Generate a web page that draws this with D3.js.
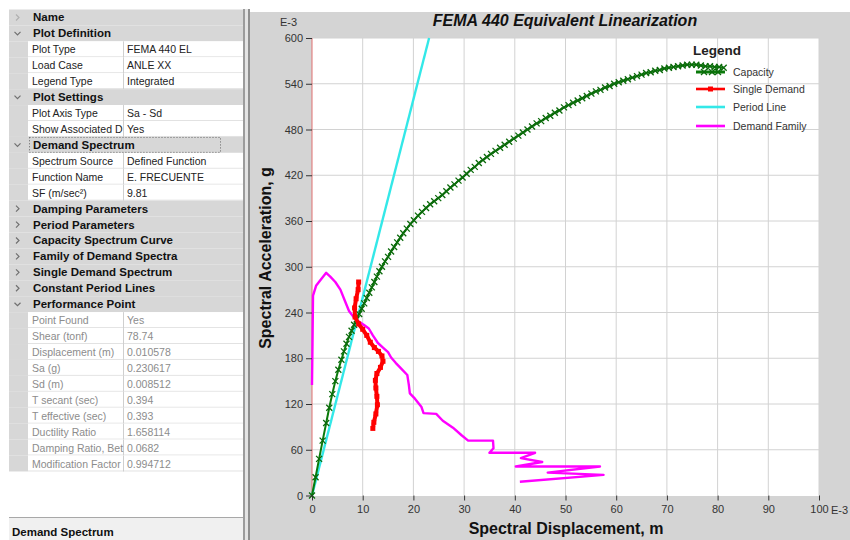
<!DOCTYPE html>
<html>
<head>
<meta charset="utf-8">
<script src="https://cdn.jsdelivr.net/npm/d3@7"></script>
<style>
  body { margin: 0; background: #fff; }
  svg { display: block; font-family: "Liberation Sans", Arial, sans-serif; }
</style>
</head>
<body>
<svg id="chart" width="850" height="540"></svg>
<script>
// ---- Axis ticks (units of 1E-3) ----
const xTicks = [0, 10, 20, 30, 40, 50, 60, 70, 80, 90, 100];
const yTicks = [0, 60, 120, 180, 240, 300, 360, 420, 480, 540, 600];

// ---- Capacity spectrum: [Sd (E-3 m), Sa (E-3 g)] ----
const capacity = [
  [0,0],[0.7,24],[1.4,48],[2.1,72],[2.8,95],[3.4,115],[4.0,133],[4.6,150],[5.2,165],[5.8,178],
  [6.3,189],[6.8,199],[7.3,208],[7.8,216],[8.3,224],[8.8,231],[9.3,238],[9.8,245],[10.3,252],[10.8,259],
  [11.3,266],[11.8,273],[12.3,280],[12.8,287],[13.3,294],[13.8,300],[14.4,307],[15.0,313],[15.6,320],[16.2,326],
  [16.8,332],[17.4,338],[18.0,344],[18.7,350],[19.4,356],[20.1,361],[20.9,367],[21.7,372],[22.5,377],[23.3,382],
  [24.1,386],[24.9,390],[25.7,394],[26.5,399],[27.3,404],[28.1,408],[28.9,413],[29.7,417],[30.5,422],[31.3,427],
  [32.1,431],[32.9,436],[33.7,440],[34.5,444],[35.3,448],[36.2,452],[37.1,456],[38.0,460],[38.9,464],[39.8,468],
  [40.7,472],[41.6,476],[42.5,480],[43.4,484],[44.3,488],[45.2,491],[46.1,495],[47.0,498],[47.9,502],[48.8,505],
  [49.7,509],[50.6,512],[51.5,515],[52.4,518],[53.3,521],[54.2,524],[55.1,527],[56.0,530],[56.9,532],[57.8,535],
  [58.7,537],[59.6,540],[60.5,542],[61.4,544],[62.3,546],[63.2,548],[64.1,550],[65.0,552],[65.9,554],[66.8,555],
  [67.7,557],[68.6,558],[69.5,560],[70.4,561],[71.3,562],[72.2,563],[73.1,564],[74.0,565],[74.9,565],[75.8,565],
  [76.7,564],[77.6,563],[78.5,563],[79.4,562],[80.3,562],[81.2,561]
];

// ---- Single demand spectrum ----
const singleDemand = [
  [9.2,280],[9.1,270],[8.7,258],[8.4,246],[8.5,234],[9.2,225],[10.0,218],[10.8,210],[11.5,201],[12.3,194],
  [13.1,189],[13.8,183],[14.0,176],[13.5,168],[12.8,160],[12.5,151],[12.6,141],[12.8,130],[12.9,119],[12.6,107],
  [12.2,96],[12.0,88]
];

// ---- Constant period line (T secant) ----
const periodLine = [[0,0],[23.1,600]];

// ---- Family of demand spectra ----
const demandFamily = [
  [0,145],[0.1,200],[0.2,262],[0.8,275],[1.6,282],[2.8,292],[3.6,287],[4.6,280],[5.6,270],[6.5,255],
  [7.3,242],[8.2,234],[9.0,229],[10.2,224],[11.2,219],[12.0,210],[13.0,200],[14.0,194],[15.0,188],[15.6,181],
  [16.5,174],[17.5,167],[18.8,158],[19.1,145],[19.3,134],[20.3,127],[21.6,116],[22.0,108],[24.5,107],[25.8,98],
  [27.8,89],[29.5,79],[30.8,72],[35.7,72],[35.8,62],[35.0,56],[44.0,56],[41.2,49],[45.4,44],[40.2,38],
  [56.8,38],[46.5,30],[57.5,27],[41.0,18]
];

const legendLabels = ["Capacity", "Single Demand", "Period Line", "Demand Family"];
const legendColors = ["#0b7a0b", "#ff0000", "#33e8e8", "#ff00ff"];

// ---- Property grid rows: [kind, name, value, expanded] ----
// kind: h = category header, p = editable property, r = read-only result
const gridRows = [
  ["h","Name","",false],
  ["h","Plot Definition","",true],
  ["p","Plot Type","FEMA 440 EL"],
  ["p","Load Case","ANLE XX"],
  ["p","Legend Type","Integrated"],
  ["h","Plot Settings","",true],
  ["p","Plot Axis Type","Sa - Sd"],
  ["p","Show Associated D","Yes"],
  ["h","Demand Spectrum","",true],
  ["p","Spectrum Source","Defined Function"],
  ["p","Function Name","E. FRECUENTE"],
  ["p","SF (m/sec²)","9.81"],
  ["h","Damping Parameters","",false],
  ["h","Period Parameters","",false],
  ["h","Capacity Spectrum Curve","",false],
  ["h","Family of Demand Spectra","",false],
  ["h","Single Demand Spectrum","",false],
  ["h","Constant Period Lines","",false],
  ["h","Performance Point","",true],
  ["r","Point Found","Yes"],
  ["r","Shear (tonf)","78.74"],
  ["r","Displacement (m)","0.010578"],
  ["r","Sa (g)","0.230617"],
  ["r","Sd (m)","0.008512"],
  ["r","T secant (sec)","0.394"],
  ["r","T effective (sec)","0.393"],
  ["r","Ductility Ratio","1.658114"],
  ["r","Damping Ratio, Bet","0.0682"],
  ["r","Modification Factor","0.994712"]
];

const svg = d3.select("#chart");

// ================= Property grid (left panel) =================
const grid = svg.append("g");
const gx0 = 9, gx1 = 243, gutter = 28, divX = 123, rowTop = 9.5, rowH = 15.93;

gridRows.forEach((r, i) => {
  const y = rowTop + i * rowH;
  const [kind, name, value, open] = r;
  if (kind === "h") {
    grid.append("rect").attr("x", gx0).attr("y", y).attr("width", gx1 - gx0).attr("height", rowH)
      .attr("fill", "#d7d7d7");
    grid.append("text").attr("x", 33).attr("y", y + rowH / 2 + 4)
      .attr("font-size", 11.5).attr("font-weight", "bold").attr("fill", "#111").text(name);
    // expander chevron
    const cx = 17.5, cy = y + rowH / 2;
    const path = open
      ? `M${cx - 3},${cy - 1.5}L${cx},${cy + 1.5}L${cx + 3},${cy - 1.5}`
      : `M${cx - 1.5},${cy - 3}L${cx + 1.5},${cy}L${cx - 1.5},${cy + 3}`;
    grid.append("path").attr("d", path).attr("fill", "none")
      .attr("stroke", name === "Name" ? "#b0b0b0" : "#707070").attr("stroke-width", 1.2);
  } else {
    grid.append("rect").attr("x", gx0).attr("y", y).attr("width", gutter - gx0).attr("height", rowH)
      .attr("fill", "#d7d7d7");
    grid.append("rect").attr("x", gutter).attr("y", y).attr("width", gx1 - gutter).attr("height", rowH)
      .attr("fill", "#fff");
    grid.append("line").attr("x1", gutter).attr("x2", gx1).attr("y1", y + rowH - 0.5).attr("y2", y + rowH - 0.5)
      .attr("stroke", "#e2e2e2");
    grid.append("line").attr("x1", divX + 0.5).attr("x2", divX + 0.5).attr("y1", y).attr("y2", y + rowH)
      .attr("stroke", "#cfcfcf");
    const col = kind === "r" ? "#8c8c8c" : "#222";
    grid.append("text").attr("x", 32).attr("y", y + rowH / 2 + 4)
      .attr("font-size", 10.5).attr("fill", col).text(name);
    grid.append("text").attr("x", 127).attr("y", y + rowH / 2 + 4)
      .attr("font-size", 10.5).attr("fill", col).text(value);
  }
});

// focus rectangle on the selected category
{
  const i = gridRows.findIndex(r => r[1] === "Demand Spectrum");
  const y = rowTop + i * rowH;
  grid.append("rect").attr("x", 29.5).attr("y", y + 0.5).attr("width", 191).attr("height", rowH - 1)
    .attr("fill", "none").attr("stroke", "#444").attr("stroke-width", 0.8).attr("stroke-dasharray", "1,2");
}

// description area at the bottom of the grid
grid.append("rect").attr("x", gx0).attr("y", 517).attr("width", gx1 - gx0).attr("height", 23).attr("fill", "#f0f0f0");
grid.append("line").attr("x1", gx0).attr("x2", gx1).attr("y1", 517.5).attr("y2", 517.5).attr("stroke", "#a8a8a8");
grid.append("text").attr("x", 12).attr("y", 536).attr("font-size", 11.5).attr("font-weight", "bold")
  .attr("fill", "#111").text("Demand Spectrum");

// panel splitter
grid.append("rect").attr("x", 243).attr("y", 9).attr("width", 2).attr("height", 531).attr("fill", "#9c9c9c");
grid.append("rect").attr("x", 245).attr("y", 9).attr("width", 3).attr("height", 531).attr("fill", "#e4e4e4");
grid.append("rect").attr("x", 248).attr("y", 9).attr("width", 2).attr("height", 531).attr("fill", "#8f8f8f");

// ================= Chart (right panel) =================
svg.append("rect").attr("x", 250).attr("y", 12).attr("width", 600).attr("height", 528).attr("fill", "#d4d4d4");

const x = d3.scaleLinear().domain([0, 100]).range([312, 819]);
const y = d3.scaleLinear().domain([0, 600]).range([495.5, 38]);

const plot = svg.append("g");
plot.append("rect").attr("x", x(0)).attr("y", y(600)).attr("width", x(100) - x(0)).attr("height", y(0) - y(600) + 0.5)
  .attr("fill", "#fff");

// gridlines
plot.selectAll(".vg").data(xTicks.slice(1)).join("line")
  .attr("x1", d => x(d)).attr("x2", d => x(d)).attr("y1", y(600)).attr("y2", y(0))
  .attr("stroke", "#d2d2d2");
plot.selectAll(".hg").data(yTicks.slice(1)).join("line")
  .attr("x1", x(0)).attr("x2", x(100)).attr("y1", d => y(d)).attr("y2", d => y(d))
  .attr("stroke", "#d2d2d2");

// left spine
plot.append("line").attr("x1", x(0)).attr("x2", x(0)).attr("y1", y(600)).attr("y2", y(0))
  .attr("stroke", "#e07070").attr("stroke-width", 1);

// axes
const xAxis = d3.axisBottom(x).tickValues(xTicks).tickSize(5).tickPadding(5).tickFormat(d3.format("d"));
const yAxis = d3.axisLeft(y).tickValues(yTicks).tickSize(6).tickPadding(3).tickFormat(d3.format("d"));
const gxa = svg.append("g").attr("transform", `translate(0,${y(0)})`).call(xAxis);
const gya = svg.append("g").attr("transform", `translate(${x(0)},0)`).call(yAxis);
[gxa, gya].forEach(g => {
  g.select(".domain").remove();
  g.selectAll(".tick line").attr("stroke", "#333");
  g.selectAll(".tick text").attr("fill", "#333").attr("font-size", 11)
    .attr("font-family", "Liberation Sans, Arial, sans-serif");
});

// exponent labels
svg.append("text").attr("x", 280).attr("y", 26).attr("font-size", 11).attr("fill", "#333").text("E-3");
svg.append("text").attr("x", 831).attr("y", 514).attr("font-size", 11).attr("fill", "#333").text("E-3");

// titles
svg.append("text").attr("x", 565).attr("y", 26).attr("text-anchor", "middle")
  .attr("font-size", 16).attr("font-weight", "bold").attr("font-style", "italic").attr("fill", "#111")
  .text("FEMA 440 Equivalent Linearization");
svg.append("text").attr("x", 566).attr("y", 534).attr("text-anchor", "middle")
  .attr("font-size", 16).attr("font-weight", "bold").attr("fill", "#111")
  .text("Spectral Displacement, m");
svg.append("text").attr("transform", "translate(271,258) rotate(-90)").attr("text-anchor", "middle")
  .attr("font-size", 16).attr("font-weight", "bold").attr("fill", "#111")
  .text("Spectral Acceleration, g");

const line = d3.line().x(d => x(d[0])).y(d => y(d[1]));

// demand family
plot.append("path").datum(demandFamily).attr("d", line).attr("fill", "none")
  .attr("stroke", legendColors[3]).attr("stroke-width", 2.4).attr("stroke-linejoin", "round");

// period line
plot.append("path").datum(periodLine).attr("d", line).attr("fill", "none")
  .attr("stroke", legendColors[2]).attr("stroke-width", 2.4);

// capacity curve with cross markers
const crossPath = "M-3,-3L3,3M-3,3L3,-3";
plot.append("path").datum(capacity).attr("d", line).attr("fill", "none")
  .attr("stroke", legendColors[0]).attr("stroke-width", 2);
plot.selectAll(".cm").data(capacity).join("path")
  .attr("transform", d => `translate(${x(d[0])},${y(d[1])})`).attr("d", crossPath)
  .attr("stroke", "#0b6a0b").attr("stroke-width", 1.3).attr("fill", "none");

// single demand with square markers
plot.append("path").datum(singleDemand).attr("d", line).attr("fill", "none")
  .attr("stroke", legendColors[1]).attr("stroke-width", 4).attr("stroke-linejoin", "round");
plot.selectAll(".sm").data(singleDemand).join("rect")
  .attr("x", d => x(d[0]) - 2.5).attr("y", d => y(d[1]) - 2.5).attr("width", 5).attr("height", 5)
  .attr("fill", legendColors[1]);

// legend
const lg = svg.append("g");
lg.append("text").attr("x", 693).attr("y", 55).attr("font-size", 13.5).attr("font-weight", "bold")
  .attr("fill", "#222").text("Legend");
const rowY = [72, 89, 107, 126];
legendLabels.forEach((lab, i) => {
  const ly = rowY[i];
  lg.append("line").attr("x1", 696).attr("x2", 725).attr("y1", ly).attr("y2", ly)
    .attr("stroke", legendColors[i]).attr("stroke-width", i === 0 ? 3 : 2.6);
  if (i === 0) {
    [704, 712, 718].forEach(mx => lg.append("path").attr("transform", `translate(${mx},${ly})`)
      .attr("d", crossPath).attr("stroke", "#0b6a0b").attr("stroke-width", 1.3));
  }
  if (i === 1) {
    lg.append("rect").attr("x", 708).attr("y", ly - 2.5).attr("width", 5).attr("height", 5).attr("fill", legendColors[1]);
  }
  lg.append("text").attr("x", 733).attr("y", ly + 4).attr("font-size", 10.5).attr("fill", "#333").text(lab);
});
</script>
</body>
</html>
